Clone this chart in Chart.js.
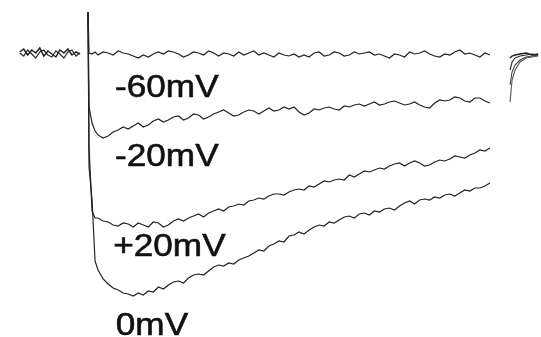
<!DOCTYPE html>
<html>
<head>
<meta charset="utf-8">
<script src="https://cdn.jsdelivr.net/npm/chart.js@4"></script>
<style>
    html, body { margin: 0; padding: 0; background: #fff; }
    #wrap { width: 541px; height: 337px; position: relative; }
</style>
</head>
<body>
<div id="wrap"><canvas id="traceChart"></canvas></div>
<script>
// time (ms) from step onset, current (pA)
const tMs = [0, 0.5, 2, 3.5,
    5, 7.5, 10, 12.5, 15, 17.5, 20, 22.5, 25, 27.5, 30, 32.5, 35, 37.5, 40, 42.5,
    45, 47.5, 50, 52.5, 55, 57.5, 60, 62.5, 65, 67.5, 70, 72.5, 75, 77.5, 80, 82.5,
    85, 87.5, 90, 92.5, 95, 97.5, 100, 102.5, 105, 107.5, 110, 112.5, 115, 117.5, 120, 122.5,
    125, 127.5, 130, 132.5, 135, 137.5, 140, 142.5, 145, 147.5, 150, 152.5, 155, 157.5, 160, 162.5,
    165, 167.5, 170, 172.5, 175, 177.5, 180, 182.5, 185, 187.5, 190, 192.5, 195, 197.5, 200];

const iMinus60 = [175, -30, -35, -25,
    -40, -25, -30, -40, -20, -30, -35, -45, -55, -40, -50, -35, -25, -35, -20, -25,
    -35, -50, -40, -25, -30, -40, -20, -30, -45, -30, -35, -45, -25, -40, -30, -20,
    -40, -30, -40, -50, -30, -40, -45, -35, -50, -40, -50, -30, -25, -45, -40, -25,
    -30, -45, -40, -25, -35, -30, -25, -40, -35, -45, -55, -35, -40, -50, -25, -35,
    -30, -20, -35, -45, -50, -35, -40, -25, -15, -35, -30, -40, -50, -30, -40];
const iMinus20 = [175, -300, -380, -420,
    -440, -455, -445, -425, -415, -400, -410, -395, -380, -400, -390, -370, -360, -375, -365, -350,
    -345, -365, -355, -335, -340, -360, -350, -335, -325, -315, -330, -345, -340, -325, -315, -320,
    -335, -320, -305, -320, -315, -300, -310, -300, -325, -340, -330, -310, -315, -305, -300, -310,
    -315, -295, -300, -290, -285, -295, -285, -275, -290, -285, -275, -270, -280, -290, -285, -275,
    -290, -300, -305, -280, -265, -270, -265, -250, -255, -270, -275, -255, -255, -270, -280];
const iPlus20 = [175, -500, -820, -855,
    -855, -870, -875, -890, -895, -880, -885, -900, -880, -890, -900, -875, -880, -900, -890, -870,
    -860, -870, -855, -845, -835, -850, -830, -820, -810, -820, -800, -795, -785, -790, -770, -765,
    -755, -760, -745, -735, -735, -740, -725, -715, -710, -715, -695, -700, -685, -670, -675, -665,
    -660, -665, -640, -650, -635, -620, -625, -615, -605, -610, -595, -585, -580, -595, -580, -570,
    -580, -595, -590, -575, -565, -570, -560, -545, -550, -555, -540, -530, -515, -520, -505];
const iZero = [175, -600, -765, -1070,
    -1115, -1160, -1185, -1205, -1215, -1230, -1235, -1245, -1230, -1240, -1220, -1225, -1200, -1210, -1190, -1175,
    -1170, -1180, -1155, -1140, -1135, -1140, -1120, -1100, -1090, -1095, -1080, -1085, -1065, -1055, -1045, -1030,
    -1015, -1020, -995, -985, -970, -975, -945, -940, -925, -935, -915, -900, -890, -895, -875, -880,
    -865, -850, -845, -855, -835, -830, -840, -820, -825, -810, -805, -815, -795, -780, -770, -785,
    -765, -760, -765, -750, -755, -740, -735, -745, -730, -715, -720, -705, -705, -695, -680];

// holding level before the step (overlaid sweeps)
const tPre = [-34, -32, -30, -28, -26, -24, -22, -20, -18, -16, -14, -12, -10, -8, -6, -4];
const iPreA = [-25, -10, -40, -15, -30, -5, -45, -20, -35, -50, -15, -30, -10, -40, -25, -35];
const iPreB = [-30, -45, -15, -35, -55, -25, -15, -40, -50, -20, -35, -55, -25, -15, -45, -30];

// tail currents after the step
const tTail = [210, 211, 212.5, 215, 218, 221, 224];
const tailA = [-55, -45, -40, -35, -30, -40, -35];
const tailB = [-115, -75, -55, -45, -40, -35, -40];
const tailC = [-190, -125, -90, -65, -50, -45, -40];
const tailD = [-275, -165, -115, -75, -55, -50, -45];

const traceLabels = ['-60mV', '-20mV', '+20mV', '0mV'];
const labelAt = [[13.4, -250], [13.4, -595], [12.5, -1045], [13.8, -1440]];

function pts(xs, ys) {
    return xs.map((x, i) => ({ x: x, y: ys[i] }));
}

function trace(xs, ys, color, width) {
    return {
        data: pts(xs, ys),
        borderColor: color || '#222',
        borderWidth: width || 1.2,
        pointRadius: 0,
        tension: 0,
        fill: false
    };
}

const labelPlugin = {
    id: 'traceLabels',
    afterDatasetsDraw(chart) {
        const ctx = chart.ctx;
        const xs = chart.scales.x, ys = chart.scales.y;
        ctx.save();
        ctx.fillStyle = '#111';
        ctx.strokeStyle = '#111';
        ctx.lineWidth = 0.6;
        ctx.font = '32px "Liberation Sans", Arial, sans-serif';
        ctx.textBaseline = 'alphabetic';
        traceLabels.forEach((txt, i) => {
            const px = xs.getPixelForValue(labelAt[i][0]);
            const py = ys.getPixelForValue(labelAt[i][1]);
            ctx.save();
            ctx.translate(px, py);
            ctx.scale(1.1, 1);
            ctx.fillText(txt, 0, 0);
            ctx.strokeText(txt, 0, 0);
            ctx.restore();
        });
        ctx.restore();
    }
};

const ctx = document.getElementById('traceChart').getContext('2d');
new Chart(ctx, {
    type: 'line',
    data: {
        datasets: [
            trace(tPre, iPreA, '#222', 1.5),
            trace(tPre, iPreB, '#333', 1.3),
            trace(tMs, iMinus60),
            trace(tMs, iMinus20),
            trace(tMs, iPlus20),
            trace(tMs, iZero),
            trace(tTail, tailA, '#222', 1.4),
            trace(tTail, tailB, '#333', 1.2),
            trace(tTail, tailC, '#444', 1.1),
            trace(tTail, tailD, '#555', 1.1)
        ]
    },
    options: {
        responsive: true,
        maintainAspectRatio: false,
        animation: false,
        layout: { padding: 0 },
        plugins: {
            legend: { display: false },
            tooltip: { enabled: false }
        },
        scales: {
            x: { type: 'linear', min: -43.8, max: 225.4, display: false },
            y: { type: 'linear', min: -1450, max: 235, display: false }
        }
    },
    plugins: [labelPlugin]
});
</script>
</body>
</html>
